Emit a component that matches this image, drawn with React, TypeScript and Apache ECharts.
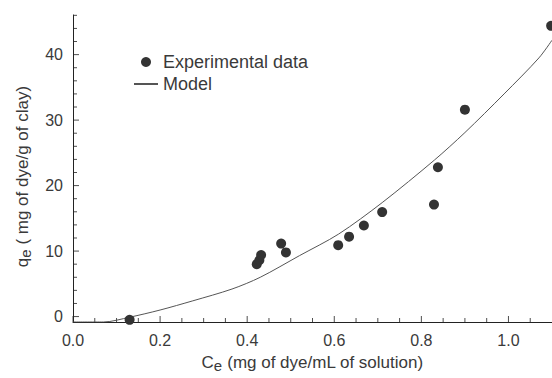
import React, { useEffect, useRef } from "react";
import * as echarts from "echarts";

// Experimental data
const expCe = [0.13, 0.422, 0.428, 0.432, 0.478, 0.489, 0.609, 0.634, 0.668, 0.71, 0.829, 0.838, 0.9, 1.098];
const expQe = [-0.5, 8.0, 8.6, 9.4, 11.15, 9.8, 10.9, 12.2, 13.9, 15.95, 17.1, 22.8, 31.6, 44.4];

// Model curve
const modelCe = [0, 0.07, 0.13, 0.2, 0.275, 0.365, 0.43, 0.52, 0.61, 0.71, 0.83, 0.9, 0.99, 1.07, 1.1];
const modelQe = [-0.83, -0.83, -0.1, 1.0, 2.4, 4.2, 6.0, 9.3, 12.6, 17.4, 23.9, 28.1, 34.0, 39.5, 42.2];

// Axis ranges, labels and tick positions
const X_MIN = 0;
const X_MAX = 1.1;
const Y_MIN = -0.83;
const Y_MAX = 46.05;
const xLabelValues = [0, 0.2, 0.4, 0.6, 0.8, 1.0];
const xTickValues = [0, 0.05, 0.1, 0.15, 0.2, 0.25, 0.3, 0.35, 0.4, 0.45, 0.5, 0.55, 0.6, 0.65, 0.7, 0.75, 0.8, 0.85, 0.9, 0.95, 1.0, 1.05];
const yLabelValues = [0, 10, 20, 30, 40];
const yTickValues = [0, 2, 4, 6, 8, 10, 12, 14, 16, 18, 20, 22, 24, 26, 28, 30, 32, 34, 36, 38, 40, 42, 44, 46];

const FONT = "'Liberation Sans', Arial, sans-serif";
const TXT = "#3a3a3a";
const AX = "#222";

export default function App() {
  const ref = useRef<HTMLDivElement>(null);
  useEffect(() => {
    if (!ref.current) return;
    const chart = echarts.init(ref.current, undefined, { renderer: "svg" });
    const rich = {
      b: { fontSize: 17, color: TXT, fontFamily: FONT },
      s: { fontSize: 15, color: TXT, fontFamily: FONT, padding: [6, 0, 0, 0] },
    };
    const axisLine = { show: true, onZero: false, lineStyle: { color: AX, width: 1 } };
    chart.setOption({
      animation: false,
      backgroundColor: "#fff",
      textStyle: { fontFamily: FONT },
      grid: { left: 73, right: 0, top: 15, bottom: 54, containLabel: false },
      legend: {
        orient: "vertical",
        left: 128,
        top: 48,
        itemWidth: 24,
        itemHeight: 10,
        itemGap: 4,
        textStyle: { fontSize: 18, color: TXT, fontFamily: FONT },
        data: [
          { name: "Experimental data", icon: "circle" },
          { name: "Model", itemStyle: { opacity: 0 } },
        ],
      },
      xAxis: {
        type: "value",
        min: X_MIN,
        max: X_MAX,
        name: "{b|C}{s|e}{b| (mg of dye/mL of solution)}",
        nameLocation: "middle",
        nameGap: 30,
        nameTextStyle: { rich, fontSize: 17, color: TXT, fontFamily: FONT },
        axisLine,
        splitLine: { show: false },
        axisTick: { show: false },
        axisLabel: {
          customValues: xLabelValues,
          formatter: (v: number) => v.toFixed(1),
          fontSize: 16,
          color: TXT,
          margin: 10,
          fontFamily: FONT,
        },
      },
      yAxis: {
        type: "value",
        min: Y_MIN,
        max: Y_MAX,
        name: "{b|q}{s|e}{b| ( mg of dye/g of clay)}",
        nameLocation: "middle",
        nameGap: 40,
        nameTextStyle: { rich, fontSize: 17, color: TXT, fontFamily: FONT, padding: [0, 16, 0, 0] },
        axisLine,
        splitLine: { show: false },
        axisTick: { show: false },
        axisLabel: {
          customValues: yLabelValues,
          fontSize: 16,
          color: TXT,
          margin: 10,
          fontFamily: FONT,
        },
      },
      series: [
        {
          name: "xTicks",
          type: "scatter",
          silent: true,
          clip: false,
          data: xTickValues.map((v) => [v, Y_MIN]),
          symbol: "rect",
          symbolSize: (val: number[]) => (Math.abs(val[0] * 5 - Math.round(val[0] * 5)) < 1e-6 ? [1, 6] : [1, 4]),
          symbolOffset: (val: number[]) => (Math.abs(val[0] * 5 - Math.round(val[0] * 5)) < 1e-6 ? [0, -3] : [0, -2]),
          itemStyle: { color: AX },
          z: 1,
        },
        {
          name: "yTicks",
          type: "scatter",
          silent: true,
          clip: false,
          data: yTickValues.map((v) => [X_MIN, v]),
          symbol: "rect",
          symbolSize: (val: number[]) => (val[1] % 10 === 0 ? [6, 1] : [4, 1]),
          symbolOffset: (val: number[]) => (val[1] % 10 === 0 ? [3, 0] : [2, 0]),
          itemStyle: { color: AX },
          z: 1,
        },
        {
          name: "Model",
          type: "line",
          data: modelCe.map((c, i) => [c, modelQe[i]]),
          symbol: "none",
          smooth: 0.3,
          lineStyle: { color: "#555", width: 1 },
          itemStyle: { color: "#555" },
          z: 2,
        },
        {
          name: "Experimental data",
          type: "scatter",
          data: expCe.map((c, i) => [c, expQe[i]]),
          symbol: "circle",
          symbolSize: 10,
          itemStyle: { color: "#333", opacity: 1 },
          z: 3,
        },
      ],
    });
    return () => chart.dispose();
  }, []);
  return <div ref={ref} style={{ width: 552, height: 378, position: "absolute", left: 0, top: 0 }} />;
}
